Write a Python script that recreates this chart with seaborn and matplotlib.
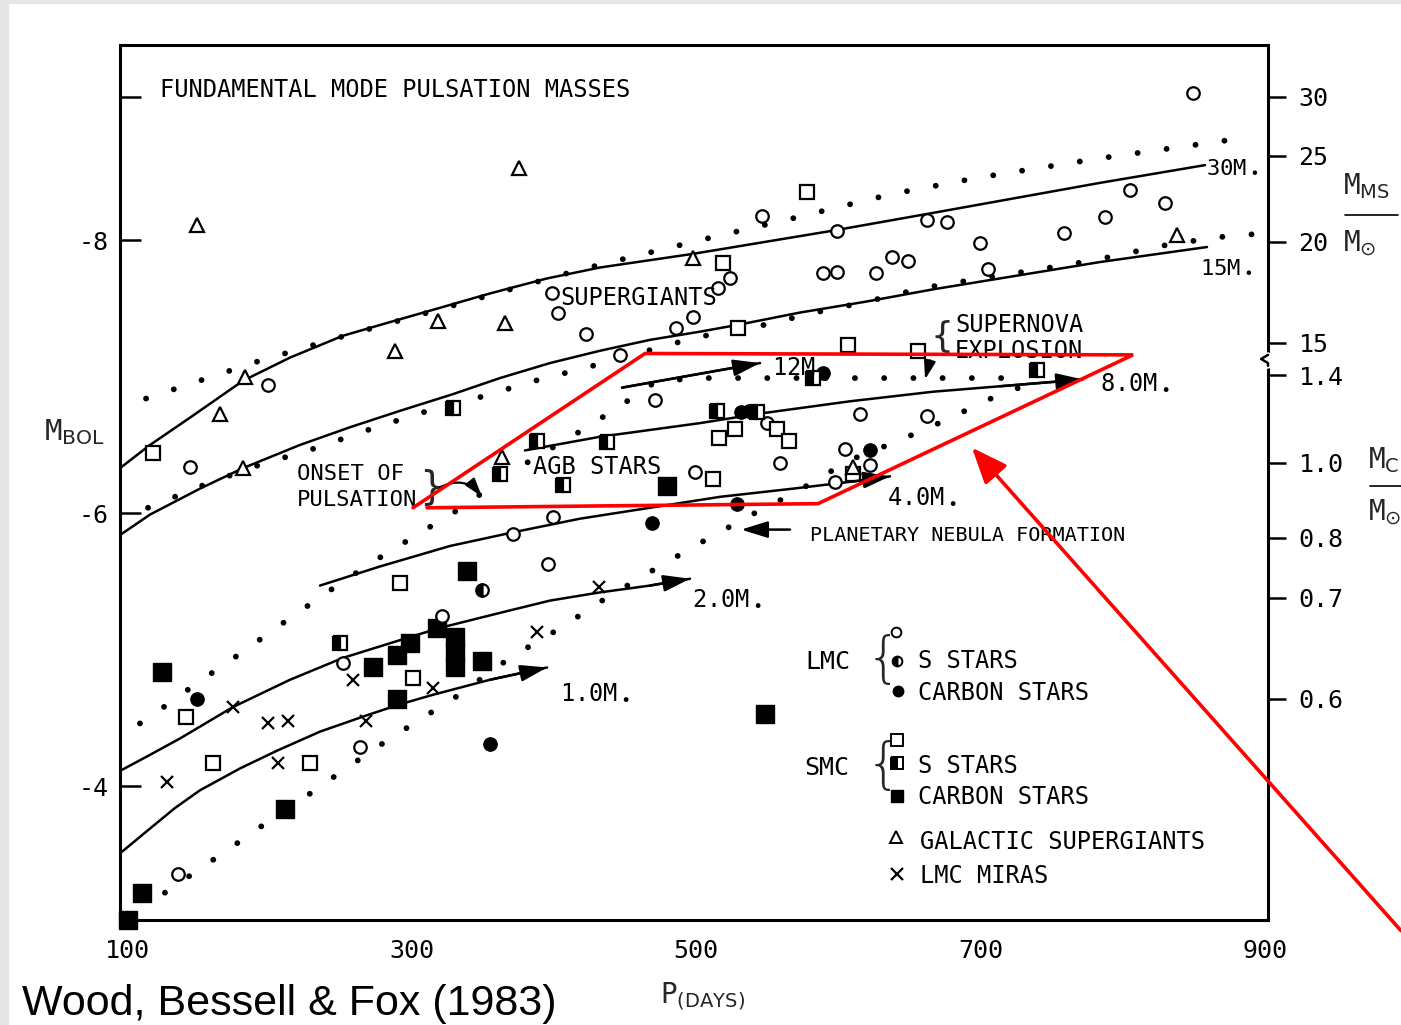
import matplotlib
matplotlib.use("Agg")
import matplotlib.pyplot as plt
import matplotlib.transforms as mtransforms
from matplotlib.patches import Rectangle
import seaborn as sns

# ---------------- data (P in days, M_bol) ----------------
# solid mass tracks
P_30M = [95.1, 116.2, 144.3, 181.5, 214.6, 251.8, 284.9, 315.1, 355.2, 395.3, 432.5, 497.9,
         596.3, 666.6, 784.0, 857.8]
M_30M = [-6.33, -6.50, -6.70, -6.97, -7.14, -7.30, -7.40, -7.49, -7.61, -7.72, -7.80, -7.90,
         -8.07, -8.20, -8.42, -8.55]
P_15M = [95.1, 116.2, 151.3, 181.5, 221.6, 256.8, 291.9, 328.5, 362.2, 397.4, 432.5, 467.7,
         502.8, 529.5, 573.1, 619.5, 666.6, 713.7, 784.0, 859.2]
M_15M = [-5.84, -5.99, -6.18, -6.33, -6.50, -6.63, -6.75, -6.87, -6.99, -7.10, -7.19, -7.27,
         -7.33, -7.38, -7.47, -7.55, -7.64, -7.72, -7.84, -7.95]
P_12M = [448.0, 545.0]
M_12M = [-6.92, -7.10]
P_8M = [379.8, 432.5, 502.8, 545.0, 608.3, 666.6, 713.7, 772.1]
M_8M = [-6.46, -6.56, -6.66, -6.73, -6.82, -6.89, -6.93, -6.98]
P_4M = [235.7, 277.9, 327.1, 371.4, 418.5, 467.7, 516.9, 568.2, 608.3, 636.4]
M_4M = [-5.47, -5.61, -5.76, -5.86, -5.96, -6.04, -6.12, -6.18, -6.23, -6.27]
P_2M = [96.5, 116.2, 137.3, 174.5, 214.6, 251.8, 291.9, 320.0, 362.2, 397.4, 432.5, 467.7, 495.8]
M_2M = [-4.12, -4.23, -4.35, -4.58, -4.78, -4.94, -5.07, -5.16, -5.27, -5.36, -5.42, -5.47, -5.52]
P_1M = [96.5, 116.2, 133.7, 151.3, 179.4, 205.4, 235.7, 268.7, 291.9, 315.1, 355.2, 395.3]
M_1M = [-3.52, -3.69, -3.84, -3.97, -4.13, -4.26, -4.40, -4.52, -4.60, -4.67, -4.78, -4.87]

# dotted lines
P_DOT1 = [113.4, 191.4, 253.3, 339.0, 417.0, 502.8, 564.0, 638.5, 699.6, 784.0, 885.9]
M_DOT1 = [-6.84, -7.11, -7.30, -7.55, -7.78, -8.00, -8.15, -8.34, -8.46, -8.60, -8.75]
P_DOT2 = [114.8, 154.8, 192.1, 233.6, 272.2, 311.6, 351.7, 386.8, 424.1, 500.7, 540.1,
          583.7, 620.2, 659.6, 694.7, 743.2, 778.4, 828.3, 864.9, 898.6]
M_DOT2 = [-6.04, -6.21, -6.35, -6.48, -6.62, -6.75, -6.86, -6.97, -7.07, -7.29, -7.36,
          -7.47, -7.55, -7.65, -7.71, -7.79, -7.85, -7.96, -8.02, -8.05]
P_DOT3 = [126.7, 168.9, 197.7, 226.5, 252.5, 279.3, 304.6, 330.6, 369.2, 406.5, 432.5,
          472.6, 507.7, 542.9, 569.6, 608.3, 639.9, 666.6, 693.3, 719.3, 741.8]
M_DOT3 = [-3.22, -3.52, -3.73, -3.93, -4.12, -4.31, -4.48, -4.65, -4.94, -5.17, -5.35,
          -5.60, -5.81, -6.01, -6.15, -6.39, -6.52, -6.64, -6.77, -6.90, -6.95]
P_DOT4 = [109.1, 123.2, 151.3, 180.8, 209.0, 239.2, 270.8, 300.4, 332.0, 376.3, 417.0,
          444.5, 458.5, 471.2, 497.9, 727.8]
M_DOT4 = [-4.46, -4.56, -4.77, -4.98, -5.19, -5.41, -5.63, -5.82, -6.02, -6.34, -6.59,
          -6.77, -6.87, -6.96, -6.99, -6.99]

# stars
LMC_S_P = [849.4, 546.4, 599.1, 662.4, 676.5, 699.7, 758.7, 787.5, 805.1, 829.7, 589.3, 599.1,
           626.5, 637.8, 649.0, 705.3, 523.9, 515.5, 497.9, 485.9, 398.8, 403.0, 422.7, 446.6,
           471.2, 199.1, 144.3, 615.3, 662.4, 604.8, 559.1, 499.3, 597.7, 622.3, 549.9, 371.4,
           399.5, 396.0, 321.4, 251.8, 263.8, 135.9]
LMC_S_M = [-9.08, -8.18, -8.07, -8.15, -8.13, -7.98, -8.05, -8.17, -8.37, -8.27, -7.76, -7.77,
           -7.76, -7.88, -7.85, -7.79, -7.72, -7.65, -7.44, -7.36, -7.61, -7.47, -7.31, -7.16,
           -6.83, -6.94, -6.34, -6.73, -6.71, -6.47, -6.37, -6.30, -6.23, -6.35, -6.66, -5.85,
           -5.97, -5.63, -5.25, -4.90, -4.29, -3.36]
LMC_S2_P = [349.6]
LMC_S2_M = [-5.44]
LMC_C_P = [149.2, 355.2, 469.1, 528.8, 622.3, 589.3, 531.6, 537.3]
LMC_C_M = [-4.64, -4.31, -5.93, -6.07, -6.46, -7.03, -6.74, -6.75]
SMC_S_P = [578.0, 519.0, 529.5, 606.9, 656.1, 118.3, 516.2, 527.4, 556.9, 565.4, 512.0,
           291.9, 301.1, 141.5, 160.5, 228.6, 610.4]
SMC_S_M = [-8.35, -7.83, -7.36, -7.23, -7.19, -6.44, -6.55, -6.62, -6.62, -6.53, -6.25,
           -5.49, -4.79, -4.51, -4.17, -4.17, -6.29]
SMC_S2_P = [329.2, 388.2, 437.4, 406.5, 362.2, 514.8, 542.9, 582.3, 739.7, 249.7]
SMC_S2_M = [-6.77, -6.53, -6.52, -6.21, -6.29, -6.75, -6.74, -6.99, -7.05, -5.05]
SMC_C_P = [479.6, 339.0, 124.6, 272.9, 289.8, 298.9, 317.9, 330.6, 330.6, 330.6, 349.6,
           289.8, 548.5, 211.1, 110.5, 100.7]
SMC_C_M = [-6.20, -5.58, -4.84, -4.87, -4.96, -5.05, -5.16, -5.09, -4.98, -4.87, -4.92,
           -4.64, -4.53, -3.83, -3.22, -3.02]
GAL_SG_P = [149.2, 375.6, 497.9, 365.7, 318.6, 288.4, 183.0, 165.4, 181.5, 838.1, 363.6, 610.4]
GAL_SG_M = [-8.11, -8.53, -7.87, -7.39, -7.41, -7.19, -7.00, -6.73, -6.33, -8.04, -6.41, -6.34]
MIRA_P = [128.1, 174.5, 199.1, 213.2, 206.2, 258.9, 268.0, 315.1, 388.2, 431.8]
MIRA_M = [-4.03, -4.58, -4.46, -4.48, -4.17, -4.78, -4.48, -4.72, -5.13, -5.46]

# highlighted region (red outline)
RED_P = [301.1, 464.2, 807.2, 585.8, 310.9]
RED_M = [-6.04, -7.17, -7.16, -6.07, -6.04]
RED_ARROW_TIP = (694.0, -6.48)

# axis ticks
X_TICKS = [100, 300, 500, 700, 900]
Y_TICKS = [-9.05, -8, -6, -4]
Y_LABELS = ["", "-8", "-6", "-4"]
MASS_POS = [-9.05, -8.62, -7.99, -7.25, -7.01, -6.37, -5.82, -5.38, -4.64]
MASS_LABELS = ["30", "25", "20", "15", "1.4", "1.0", "0.8", "0.7", "0.6"]

# ---------------- styling ----------------
sns.set_theme(style="white")
MONO = ["DejaVu Sans Mono", "DejaVu Sans"]
plt.rcParams["font.family"] = MONO
plt.rcParams["axes.unicode_minus"] = False
plt.rcParams["mathtext.fontset"] = "dejavusans"

fig = plt.figure(figsize=(14.01, 10.25), dpi=100)
fig.patch.set_facecolor("white")
fig.patches.append(Rectangle((0, 0), 8 / 1401, 1, transform=fig.transFigure,
                             color="#e6e6e6", zorder=-5))
fig.patches.append(Rectangle((0, 1 - 3 / 1025), 1, 3 / 1025, transform=fig.transFigure,
                             color="#e6e6e6", zorder=-5))
ax = fig.add_axes([120 / 1401, 1 - 920 / 1025, 1148 / 1401, 875 / 1025])
ax.set_facecolor("white")

LW = 1.8
# solid tracks
for P, M in [(P_30M, M_30M), (P_15M, M_15M), (P_12M, M_12M), (P_8M, M_8M),
             (P_4M, M_4M), (P_2M, M_2M), (P_1M, M_1M)]:
    sns.lineplot(x=P, y=M, sort=False, estimator=None, color="black", lw=LW, ax=ax)
# arrow heads
for P, M in [(P_12M, M_12M), (P_8M, M_8M), (P_4M, M_4M), (P_2M, M_2M), (P_1M, M_1M)]:
    ax.annotate("", xy=(P[-1], M[-1]), xytext=(P[-2], M[-2]),
                arrowprops=dict(arrowstyle="-|>,head_length=0.9,head_width=0.28",
                                color="black", lw=LW, shrinkA=0, shrinkB=0,
                                mutation_scale=18))

# dotted lines
for P, M in [(P_DOT1, M_DOT1), (P_DOT2, M_DOT2), (P_DOT3, M_DOT3), (P_DOT4, M_DOT4)]:
    ax.plot(P, M, color="black", lw=4.2, linestyle=(0, (0.01, 5.0)),
            dash_capstyle="round", solid_capstyle="round")

# stars
ms_c, ms_s = 9, 10
ax.plot(LMC_S_P, LMC_S_M, ls="none", marker="o", ms=ms_c, mfc="white", mec="black", mew=1.6)
ax.plot(LMC_S2_P, LMC_S2_M, ls="none", marker="o", ms=ms_c, mfc="black", mec="black",
        mew=1.6, fillstyle="left", markerfacecoloralt="white")
sns.scatterplot(x=LMC_C_P, y=LMC_C_M, marker="o", s=95, color="black", edgecolor="black", ax=ax)
ax.plot(SMC_S_P, SMC_S_M, ls="none", marker="s", ms=ms_s, mfc="white", mec="black", mew=1.6)
ax.plot(SMC_S2_P, SMC_S2_M, ls="none", marker="s", ms=ms_s, mfc="black", mec="black",
        mew=1.6, fillstyle="left", markerfacecoloralt="white")
sns.scatterplot(x=SMC_C_P, y=SMC_C_M, marker="s", s=150, color="black", edgecolor="black",
                ax=ax, clip_on=False)
ax.plot(GAL_SG_P, GAL_SG_M, ls="none", marker="^", ms=9.5, mfc="white", mec="black", mew=1.6)
ax.plot(MIRA_P, MIRA_M, ls="none", marker="x", ms=9, mec="black", mew=1.6)

# axes
ax.set_xlim(95.1, 902.1)
ax.set_ylim(-3.02, -9.43)
ax.set_xticks(X_TICKS)
ax.set_xticklabels([str(t) for t in X_TICKS])
ax.set_xticks([300, 500, 700], minor=True)
ax.tick_params(axis="x", which="major", length=0, pad=14, labelsize=18, colors="black",
               labelbottom=True)
ax.tick_params(axis="x", which="minor", direction="in", length=14, width=1.8, top=True,
               bottom=True, color="black")
ax.set_yticks(Y_TICKS)
ax.set_yticklabels(Y_LABELS)
ax.tick_params(axis="y", which="major", direction="in", length=15, width=1.8, left=True,
               right=True, labelsize=18, pad=8, color="black", labelcolor="black")
ax.set_xlabel("")
ax.set_ylabel("")
for s in ax.spines.values():
    s.set_color("black")
    s.set_linewidth(2.2)
ax.grid(False)

ax2 = ax.twinx()
ax2.set_ylim(ax.get_ylim())
ax2.set_yticks(MASS_POS)
ax2.set_yticklabels(MASS_LABELS)
ax2.tick_params(axis="y", direction="out", length=13, width=1.8, right=True, left=False,
                labelright=True, labelsize=18, pad=9, color="black", labelcolor="black")
ax2.grid(False)
for s in ax2.spines.values():
    s.set_visible(False)

# axis break on right spine
brk = mtransforms.blended_transform_factory(ax.transAxes, ax.transData)
ax.plot([1.0, 1.0], [-7.16, -7.08], color="white", lw=4, transform=brk, clip_on=False, zorder=5)
ax.plot([1.0, 0.994, 1.0, 1.0], [-7.16, -7.13, -7.10, -7.08], color="black", lw=1.8,
        transform=brk, clip_on=False, zorder=6)

# labels
def label(p, m, s, size=17, **kw):
    ax.text(p, m, s, fontsize=size, va="center", ha="left", color="black", **kw)

label(123.2, -9.10, "FUNDAMENTAL MODE PULSATION MASSES", 17)
label(404.4, -7.58, "SUPERGIANTS", 17)
label(682.1, -7.38, "SUPERNOVA", 17)
label(682.1, -7.19, "EXPLOSION", 17)
label(553.4, -7.08, "12M$_\\bullet$", 17)
label(784.0, -6.96, "8.0M$_\\bullet$", 17)
label(385.4, -6.34, "AGB STARS", 17)
label(219.5, -6.29, "ONSET OF", 16)
label(219.5, -6.10, "PULSATION", 16)
label(634.3, -6.13, "4.0M$_\\bullet$", 17)
label(580.1, -5.84, "PLANETARY NEBULA FORMATION", 14.5)
label(497.2, -5.38, "2.0M$_\\bullet$", 17)
label(404.4, -4.69, "1.0M$_\\bullet$", 17)
label(858.5, -8.54, "30M$_\\bullet$", 16)
label(854.3, -7.81, "15M$_\\bullet$", 16)
ax.text(673.0, -7.29, "{", fontsize=26, va="center", ha="center", family="DejaVu Sans")
ax.text(314.4, -6.19, "}", fontsize=28, va="center", ha="center", family="DejaVu Sans")

# small arrows
ax.annotate("", xy=(531.7, -5.88), xytext=(566.1, -5.88),
            arrowprops=dict(arrowstyle="-|>,head_length=0.9,head_width=0.28", color="black",
                            lw=1.8, shrinkA=0, shrinkB=0, mutation_scale=18))
ax.annotate("", xy=(661.0, -6.98), xytext=(664.5, -7.12),
            arrowprops=dict(arrowstyle="-|>,head_length=0.8,head_width=0.25", color="black",
                            lw=1.6, shrinkA=0, shrinkB=0, mutation_scale=14))
ax.annotate("", xy=(349.6, -6.12), xytext=(320.0, -6.19),
            arrowprops=dict(arrowstyle="-|>,head_length=0.8,head_width=0.25", color="black",
                            lw=1.6, shrinkA=0, shrinkB=0, mutation_scale=14,
                            connectionstyle="arc3,rad=-0.4"))

# legend block
label(576.6, -4.91, "LMC", 18)
label(575.9, -4.13, "SMC", 18)
ax.text(631.5, -4.92, "{", fontsize=40, va="center", ha="center", family="DejaVu Sans",
        fontweight="light")
ax.text(631.5, -4.14, "{", fontsize=40, va="center", ha="center", family="DejaVu Sans",
        fontweight="light")
ax.plot([640.6], [-5.13], marker="o", ms=7, mfc="white", mec="black", mew=1.4)
ax.plot([641.3], [-4.92], marker="o", ms=7, mfc="black", mec="black", mew=1.4,
        fillstyle="left", markerfacecoloralt="white")
ax.plot([642.0], [-4.70], marker="o", ms=7.5, color="black")
ax.plot([641.3], [-4.34], marker="s", ms=8, mfc="white", mec="black", mew=1.4)
ax.plot([641.3], [-4.17], marker="s", ms=8, mfc="black", mec="black", mew=1.4,
        fillstyle="left", markerfacecoloralt="white")
ax.plot([641.3], [-3.93], marker="s", ms=9, color="black")
ax.plot([640.6], [-3.63], marker="^", ms=8, mfc="white", mec="black", mew=1.4)
ax.plot([641.3], [-3.36], marker="x", ms=8, mec="black", mew=1.6)
label(656.1, -4.92, "S STARS", 17)
label(656.1, -4.68, "CARBON STARS", 17)
label(656.1, -4.15, "S STARS", 17)
label(656.1, -3.92, "CARBON STARS", 17)
label(657.5, -3.59, "GALACTIC SUPERGIANTS", 17)
label(657.5, -3.34, "LMC MIRAS", 17)

# axis titles
fig.text(44 / 1401, 1 - 432 / 1025, "M$_{\\mathrm{BOL}}$", fontsize=21, va="center", ha="left")
fig.text(660 / 1401, 1 - 996 / 1025, "P$_{(\\mathrm{DAYS})}$", fontsize=20, va="center",
         ha="left")
fig.text(1343 / 1401, 1 - 186 / 1025, "M$_{\\mathrm{MS}}$", fontsize=20, va="center", ha="left")
fig.add_artist(plt.Line2D([1345 / 1401, 1398 / 1401], [1 - 215 / 1025, 1 - 215 / 1025],
                          color="black", lw=1.2))
fig.text(1343 / 1401, 1 - 243 / 1025, "M$_{\\odot}$", fontsize=20, va="center", ha="left")
fig.text(1368 / 1401, 1 - 460 / 1025, "M$_{\\mathrm{C}}$", fontsize=20, va="center", ha="left")
fig.add_artist(plt.Line2D([1370 / 1401, 1401 / 1401], [1 - 486 / 1025, 1 - 486 / 1025],
                          color="black", lw=1.2))
fig.text(1368 / 1401, 1 - 512 / 1025, "M$_{\\odot}$", fontsize=20, va="center", ha="left")

fig.text(22 / 1401, 1 - 1004 / 1025, "Wood, Bessell & Fox (1983)", fontsize=31,
         family=["Liberation Sans", "DejaVu Sans"], va="center", ha="left", color="black")

# red highlight
ax.plot(RED_P, RED_M, color="#ff0000", lw=2.6, zorder=10, solid_joinstyle="miter")
ax.annotate("", xy=RED_ARROW_TIP, xycoords="data", xytext=(1.0, 0.092),
            textcoords="figure fraction", annotation_clip=False,
            arrowprops=dict(arrowstyle="-|>,head_length=1.1,head_width=0.45", color="#ff0000",
                            lw=2.6, shrinkA=0, shrinkB=0, mutation_scale=20), zorder=11)

fig.savefig("out.png", dpi=100, facecolor="white")
